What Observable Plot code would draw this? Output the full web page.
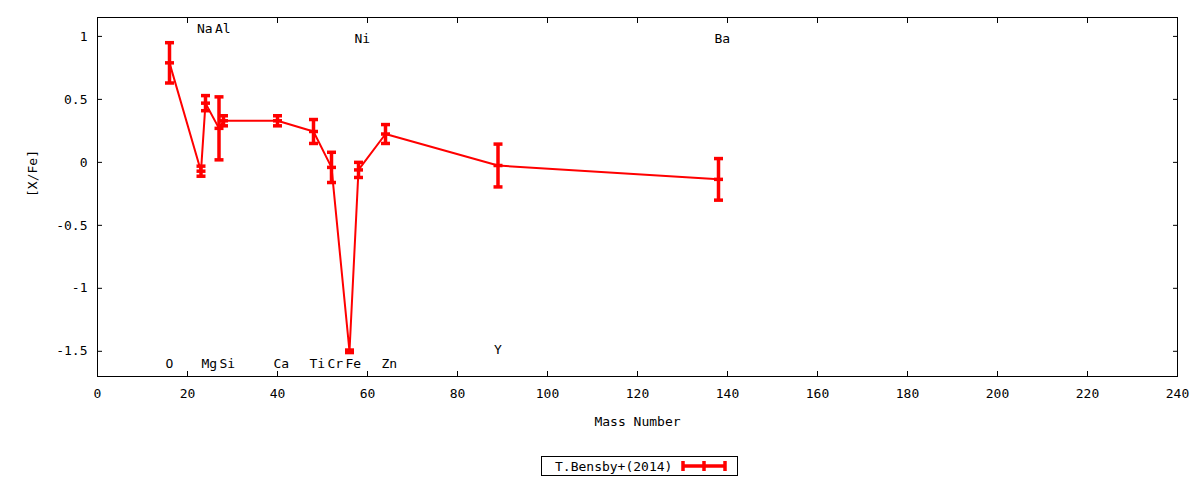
<!DOCTYPE html>
<html>
<head>
<meta charset="utf-8">
<script src="https://cdn.jsdelivr.net/npm/d3@7"></script>
<script src="https://cdn.jsdelivr.net/npm/@observablehq/plot@0.6"></script>
<style>
  html, body { margin: 0; padding: 0; background: #fff; }
  #wrap { position: relative; width: 1200px; height: 480px; font-family: "DejaVu Sans Mono", monospace; }
  #legend { position: absolute; left: 541px; top: 456px; width: 195px; height: 18px; border: 1px solid #000;
    box-sizing: content-box; display: flex; align-items: center; font-size: 13px; color: #000; }
  #legend span { margin-left: 13px; }
  #legend svg { margin-left: 9px; }
</style>
</head>
<body>
<div id="wrap"><div id="chart"></div>
<div id="legend"><span>T.Bensby+(2014)</span>
<svg width="46" height="12"><g stroke="#ff0000" stroke-width="3.5" fill="none">
<path d="M2,6H44M2,1V11M23,1V11M44,1V11"/></g></svg></div>
</div>
<script>
// Data
const elements = ["O", "Na", "Mg", "Al", "Si", "Ca", "Ti", "Cr", "Fe", "Ni", "Zn", "Y", "Ba"];
const massNumbers = [16, 23, 24, 27, 28, 40, 48, 52, 56, 58, 64, 89, 138];
const xfeValues = [0.79, -0.07, 0.47, 0.27, 0.33, 0.33, 0.245, -0.04, -1.5, -0.06, 0.225, -0.025, -0.135];
const xfeErrors = [0.16, 0.04, 0.06, 0.25, 0.04, 0.04, 0.095, 0.12, 0.01, 0.06, 0.075, 0.17, 0.165];
// element label positions (y in [X/Fe] units)
const labelY = [-1.6, 1.06, -1.6, 1.06, -1.6, -1.6, -1.6, -1.6, -1.6, 0.98, -1.6, -1.49, 0.98];

const xTicks = d3.range(0, 241, 20);
const yTicks = [-1.5, -1, -0.5, 0, 0.5, 1];

const data = elements.map((e, i) => ({
  el: e, mass: massNumbers[i], val: xfeValues[i],
  lo: xfeValues[i] - xfeErrors[i], hi: xfeValues[i] + xfeErrors[i], ly: labelY[i]
}));

const red = "#ff0000";
const capSymbol = {
  draw(context, size) {
    const w = 4.5;
    context.moveTo(-w, 0);
    context.lineTo(w, 0);
  }
};

const chart = Plot.plot({
  width: 1200,
  height: 445,
  marginLeft: 97,
  marginRight: 23,
  marginTop: 17,
  marginBottom: 69,
  style: { fontFamily: "DejaVu Sans Mono, monospace", fontSize: "13px", color: "#000", background: "#fff" },
  x: { domain: [0, 240] },
  y: { domain: [-1.7, 1.15] },
  marks: [
    Plot.frame({ stroke: "#000", strokeWidth: 1 }),
    // inward ticks on all four sides
    Plot.axisX(xTicks, { anchor: "bottom", tickSize: -5, tickFormat: () => "", label: null }),
    Plot.axisX(xTicks, { anchor: "top", tickSize: -5, tickFormat: () => "", label: null }),
    Plot.axisY(yTicks, { anchor: "left", tickSize: -5, tickFormat: () => "", label: null }),
    Plot.axisY(yTicks, { anchor: "right", tickSize: -5, tickFormat: () => "", label: null }),
    // tick labels
    Plot.axisX(xTicks, { anchor: "bottom", tickSize: 0, tickPadding: 12, label: null, tickFormat: d => String(d) }),
    Plot.axisY(yTicks, { anchor: "left", tickSize: 0, tickPadding: 10, label: null, tickFormat: d => String(d) }),
    // axis titles
    Plot.text(["Mass Number"], { frameAnchor: "bottom", dy: 49, text: d => d }),
    Plot.text(["[X/Fe]"], { frameAnchor: "left", dx: -65, rotate: -90, text: d => d }),
    // element labels
    Plot.text(data, { x: "mass", y: "ly", text: "el", textAnchor: "start", dx: -4 }),
    // data line
    Plot.line(data, { x: "mass", y: "val", stroke: red, strokeWidth: 2 }),
    // error bars
    Plot.ruleX(data, { x: "mass", y1: "lo", y2: "hi", stroke: red, strokeWidth: 3.5 }),
    Plot.dot(data, { x: "mass", y: "lo", symbol: capSymbol, r: 3, stroke: red, strokeWidth: 3.5, fill: "none" }),
    Plot.dot(data, { x: "mass", y: "hi", symbol: capSymbol, r: 3, stroke: red, strokeWidth: 3.5, fill: "none" }),
    Plot.dot(data, { x: "mass", y: "val", symbol: capSymbol, r: 3, stroke: red, strokeWidth: 3.5, fill: "none" })
  ]
});
document.getElementById("chart").appendChild(chart);
</script>
</body>
</html>
